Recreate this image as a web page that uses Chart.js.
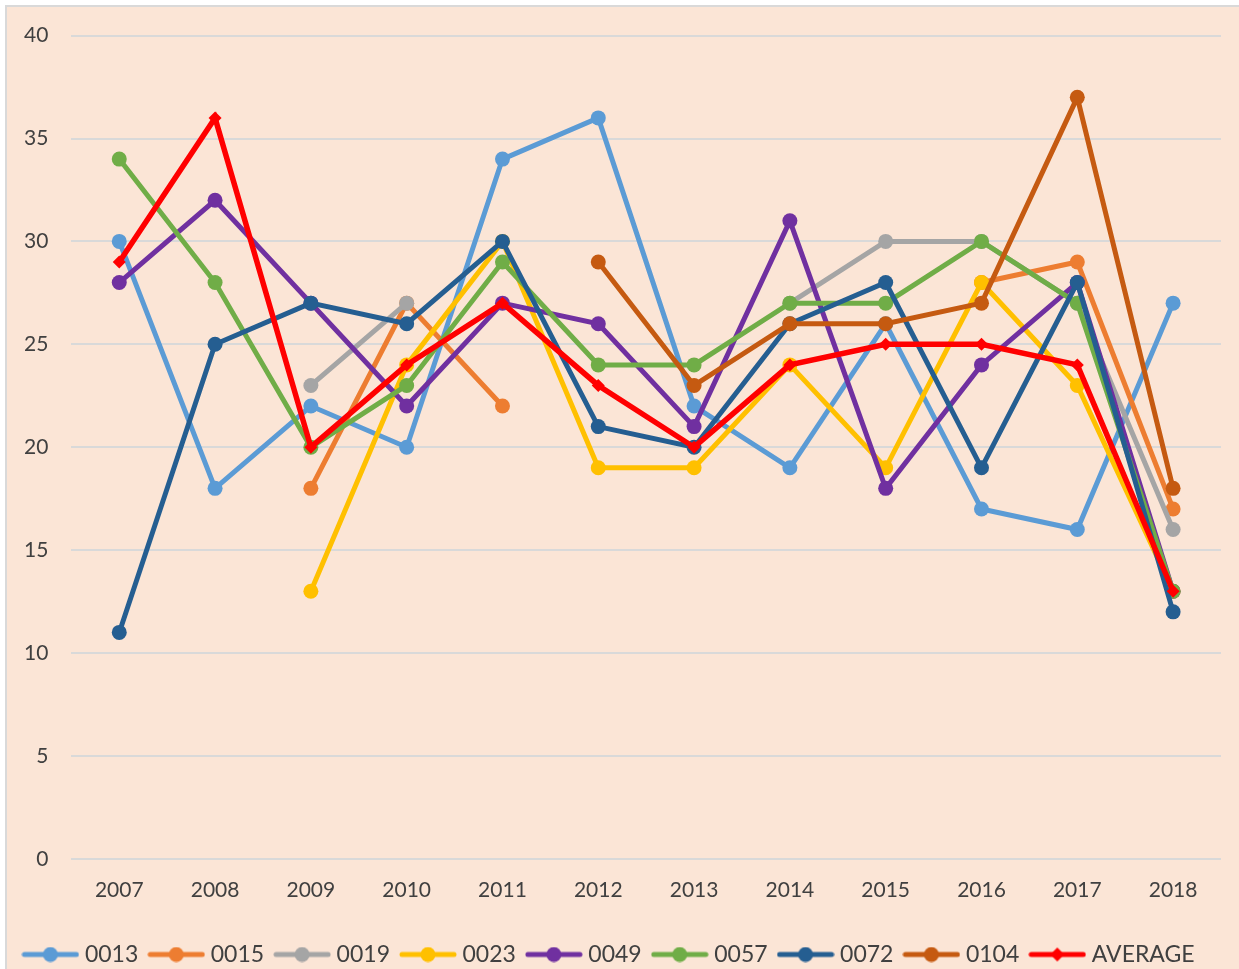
<!DOCTYPE html>
<html>
<head>
<meta charset="utf-8">
<script src="https://cdn.jsdelivr.net/npm/chart.js@4"></script>
<style>
  html, body { margin: 0; padding: 0; background: #fff; }
  #frame {
    position: absolute; left: 5px; top: 5px; width: 1240px; height: 970px;
    background: #FBE5D6; border-left: 2px solid #d9d9d9; border-top: 2px solid #d9d9d9;
  }
  #wrap { position: absolute; left: 0; top: 0; width: 1239px; height: 969px; }
</style>
</head>
<body>
<div id="frame"></div>
<div id="wrap"><canvas id="chart" width="1239" height="969"></canvas></div>
<script>
// années
const years = ["2007", "2008", "2009", "2010", "2011", "2012", "2013", "2014", "2015", "2016", "2017", "2018"];

// séries
const s0013 = [30, 18, 22, 20, 34, 36, 22, 19, 26, 17, 16, 27];
const s0015 = [null, null, 18, 27, 22, null, null, null, null, 28, 29, 17];
const s0019 = [null, null, 23, 27, null, null, null, 27, 30, 30, 27, 16];
const s0023 = [null, null, 13, 24, 30, 19, 19, 24, 19, 28, 23, 13];
const s0049 = [28, 32, 27, 22, 27, 26, 21, 31, 18, 24, 28, 13];
const s0057 = [34, 28, 20, 23, 29, 24, 24, 27, 27, 30, 27, 13];
const s0072 = [11, 25, 27, 26, 30, 21, 20, 26, 28, 19, 28, 12];
const s0104 = [null, null, null, null, null, 29, 23, 26, 26, 27, 37, 18];
const average = [29, 36, 20, 24, 27, 23, 20, 24, 25, 25, 24, 13];

const names = ["0013", "0015", "0019", "0023", "0049", "0057", "0072", "0104", "AVERAGE"];
const colors = ["#5B9BD5", "#ED7D31", "#A5A5A5", "#FFC000", "#7030A0", "#70AD47", "#255E91", "#C55A11", "#FF0000"];
const series = [s0013, s0015, s0019, s0023, s0049, s0057, s0072, s0104, average];

// petite image ligne + marqueur pour la légende
function legendIcon(color, diamond) {
    const c = document.createElement("canvas");
    c.width = 58; c.height = 16;
    const g = c.getContext("2d");
    g.strokeStyle = color; g.fillStyle = color;
    g.lineWidth = 5; g.lineCap = "round";
    g.beginPath(); g.moveTo(3, 8); g.lineTo(55, 8); g.stroke();
    g.beginPath();
    if (diamond) {
        g.moveTo(29, 1); g.lineTo(36, 8); g.lineTo(29, 15); g.lineTo(22, 8); g.closePath();
    } else {
        g.arc(29, 8, 7.5, 0, Math.PI * 2);
    }
    g.fill();
    return c;
}

const datasets = series.map((data, i) => {
    const isAvg = names[i] === "AVERAGE";
    return {
        label: names[i],
        data: data,
        borderColor: colors[i],
        backgroundColor: colors[i],
        borderWidth: isAvg ? 5.5 : 5,
        pointStyle: isAvg ? "rectRot" : "circle",
        pointRadius: isAvg ? 6.5 : 7.5,
        pointBorderWidth: 0,
        pointHoverRadius: 7.5,
        order: series.length - 1 - i,
        spanGaps: false,
        tension: 0
    };
});

const ctx = document.getElementById("chart").getContext("2d");
new Chart(ctx, {
    type: "line",
    data: { labels: years, datasets: datasets },
    options: {
        responsive: false,
        animation: false,
        layout: { padding: { left: 1, right: 18, top: 26, bottom: -7 } },
        scales: {
            x: {
                offset: true,
                grid: { display: false },
                border: { display: false },
                ticks: { color: "#404040", font: { family: "Lato", size: 21 }, padding: 11 },
                afterFit: scale => { scale.height += 14; }
            },
            y: {
                min: 0, max: 40,
                ticks: { stepSize: 5, color: "#404040", font: { family: "Lato", size: 21 }, padding: 23 },
                grid: { color: "#D9D9D9", lineWidth: 2, drawTicks: false },
                border: { display: false }
            }
        },
        plugins: {
            tooltip: { enabled: false },
            legend: {
                position: "bottom",
                labels: {
                    usePointStyle: true,
                    pointStyleWidth: 46,
                    boxHeight: 16,
                    padding: 15,
                    color: "#404040",
                    font: { family: "Lato", size: 23 },
                    sort: (a, b) => a.datasetIndex - b.datasetIndex,
                    generateLabels: chart => {
                        const items = Chart.defaults.plugins.legend.labels.generateLabels(chart);
                        items.forEach(it => {
                            it.pointStyle = legendIcon(colors[it.datasetIndex], names[it.datasetIndex] === "AVERAGE");
                        });
                        return items;
                    }
                }
            }
        }
    }
});
</script>
</body>
</html>
